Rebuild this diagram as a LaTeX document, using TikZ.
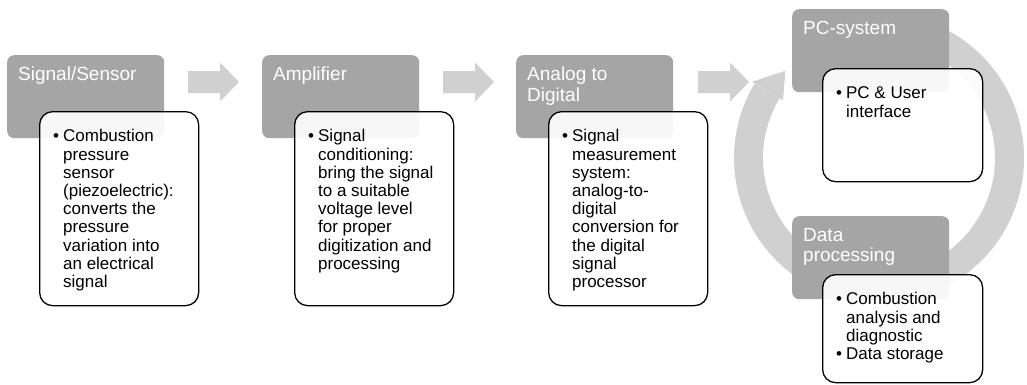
\documentclass[tikz,border=0pt]{standalone}
\usepackage{fontspec}
\setmainfont{Liberation Sans}
\definecolor{stagegray}{HTML}{A5A5A5}
\definecolor{flowgray}{HTML}{D0D0D0}
\begin{document}
\begin{tikzpicture}[x=1pt,y=1pt,line join=round,
	stage/.style={fill=stagegray,rounded corners=7pt,minimum width=157pt,minimum height=83pt,anchor=north west,inner sep=0pt},
	note/.style={draw=black,line width=1.3pt,fill=white,fill opacity=.92,rounded corners=13pt,minimum width=159pt,anchor=north west,inner sep=0pt},
	stagetext/.style={text=white,font=\fontsize{19}{20.5}\selectfont,align=left,anchor=north west,inner sep=0pt},
	notetext/.style={font=\fontsize{17}{18.2}\selectfont,anchor=north west,inner sep=0pt},
	flow/.style={fill=flowgray},
	ring/.style={draw=flowgray,line width=29pt}]
	\useasboundingbox (0,0) rectangle (1027,384);
	\coordinate (o) at (879,226);
	\draw[ring] (o) ++(100:130.5) arc[start angle=100,end angle=-211,radius=130.5];
	\fill[flow] ([shift={(149:112)}]o) -- ([shift={(137:128)}]o) -- ([shift={(149:148)}]o) -- cycle;
	\foreach \x in {188,443,698}
		\fill[flow] (\x,291) -- ++(32,0) -- ++(0,-8.5) -- ++(19,19.5) -- ++(-19,19.5) -- ++(0,-8.5) -- ++(-32,0) -- cycle;
	\node[stage] (sensor) at (7,329) {};
	\node[stage] (amp) at (262,329) {};
	\node[stage] (adc) at (516,329) {};
	\node[stage] (pc) at (792,375) {};
	\node[stage] (proc) at (792,168) {};
	\node[stagetext] at ([shift={(11,-12)}]sensor.north west) {Signal/Sensor};
	\node[stagetext] at ([shift={(11,-12)}]amp.north west) {Amplifier};
	\node[stagetext] at ([shift={(11,-12)}]adc.north west) {Analog to\\Digital};
	\node[stagetext] at ([shift={(11,-12)}]pc.north west) {PC-system};
	\node[stagetext] at ([shift={(11,-12)}]proc.north west) {Data\\processing};
	\node[note,minimum height=194pt] (sensornote) at (39,273) {};
	\node[note,minimum height=194pt] (ampnote) at (294,273) {};
	\node[note,minimum height=194pt] (adcnote) at (548,273) {};
	\node[note,minimum width=160pt,minimum height=113pt] (pcnote) at (822,316) {};
	\node[note,minimum width=160pt,minimum height=108pt] (procnote) at (822,110) {};
	\node[notetext] at ([shift={(14,-18)}]sensornote.north west) {\begin{tabular}{@{}c@{\hspace{4pt}}l@{}}
		\textbullet & Combustion\\ & pressure\\ & sensor\\ & (piezoelectric):\\ & converts the\\ & pressure\\ & variation into\\ & an electrical\\ & signal
		\end{tabular}};
	\node[notetext] at ([shift={(14,-18)}]ampnote.north west) {\begin{tabular}{@{}c@{\hspace{4pt}}l@{}}
		\textbullet & Signal\\ & conditioning:\\ & bring the signal\\ & to a suitable\\ & voltage level\\ & for proper\\ & digitization and\\ & processing
		\end{tabular}};
	\node[notetext] at ([shift={(14,-18)}]adcnote.north west) {\begin{tabular}{@{}c@{\hspace{4pt}}l@{}}
		\textbullet & Signal\\ & measurement\\ & system:\\ & analog-to-\\ & digital\\ & conversion for\\ & the digital\\ & signal\\ & processor
		\end{tabular}};
	\node[notetext] at ([shift={(14,-18)}]pcnote.north west) {\begin{tabular}{@{}c@{\hspace{4pt}}l@{}}
		\textbullet & PC \& User\\ & interface
		\end{tabular}};
	\node[notetext] at ([shift={(14,-18)}]procnote.north west) {\begin{tabular}{@{}c@{\hspace{4pt}}l@{}}
		\textbullet & Combustion\\ & analysis and\\ & diagnostic\\
		\textbullet & Data storage
		\end{tabular}};
\end{tikzpicture}
\end{document}
